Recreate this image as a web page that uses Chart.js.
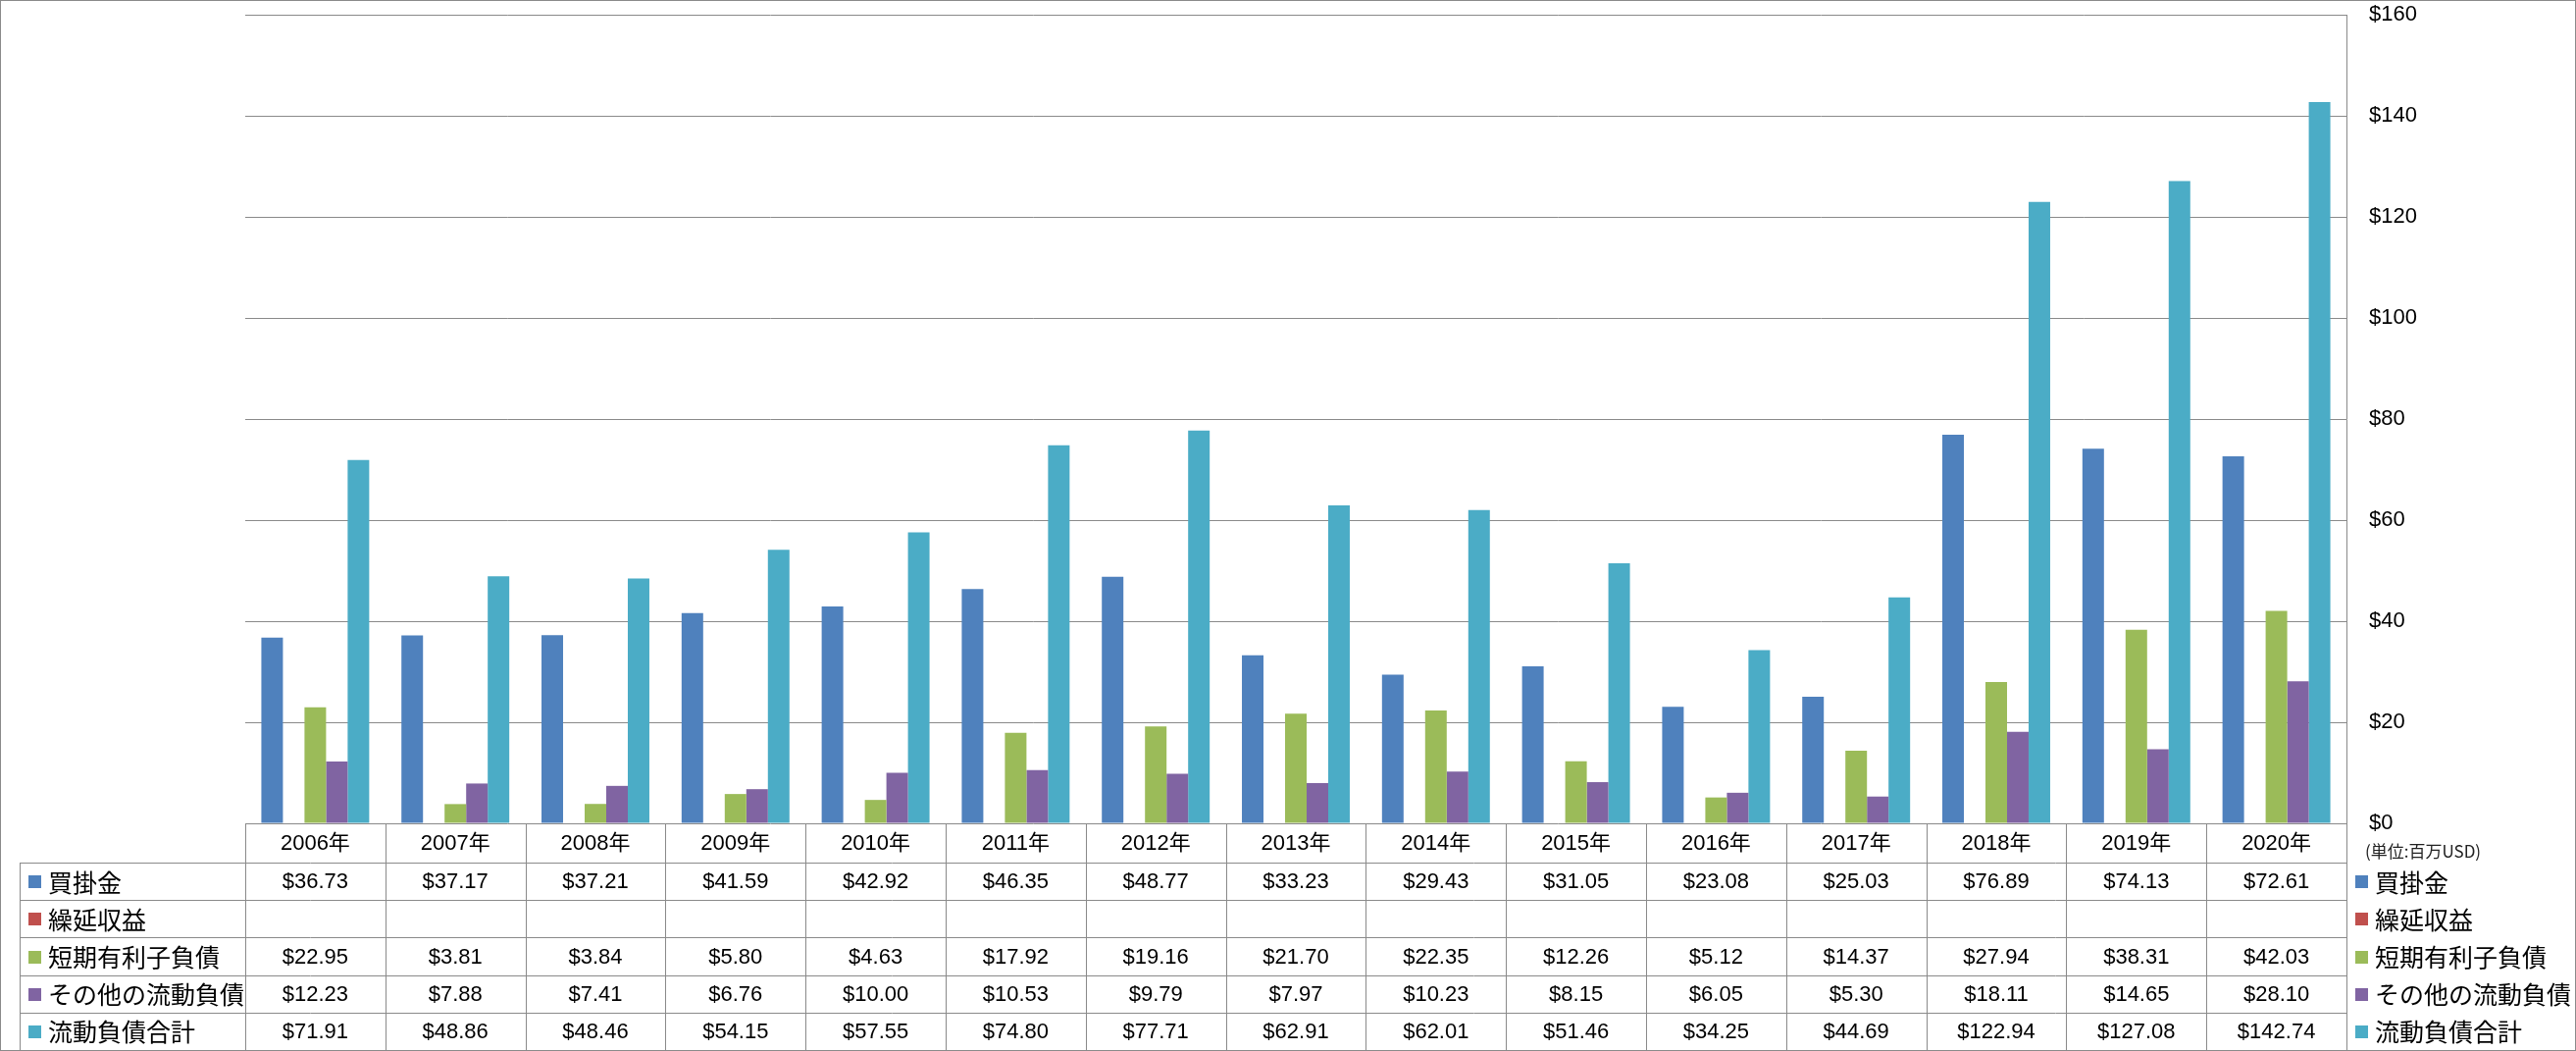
<!DOCTYPE html>
<html>
<head>
<meta charset="utf-8">
<script src="https://cdn.jsdelivr.net/npm/chart.js@4.4.1/dist/chart.umd.min.js"></script>
<style>
  html, body { margin: 0; padding: 0; background: #fff; }
  canvas { display: block; }
</style>
</head>
<body>
<canvas id="myChart" width="2626" height="1071"></canvas>
<script>
// data (百万USD)
const years = ['2006年', '2007年', '2008年', '2009年', '2010年', '2011年', '2012年', '2013年',
  '2014年', '2015年', '2016年', '2017年', '2018年', '2019年', '2020年'];
const seriesNames = ['買掛金', '繰延収益', '短期有利子負債', 'その他の流動負債', '流動負債合計'];
const accountsPayable = [36.73, 37.17, 37.21, 41.59, 42.92, 46.35, 48.77, 33.23, 29.43, 31.05, 23.08, 25.03, 76.89, 74.13, 72.61];
const deferredRevenue = [null, null, null, null, null, null, null, null, null, null, null, null, null, null, null];
const shortTermDebt = [22.95, 3.81, 3.84, 5.80, 4.63, 17.92, 19.16, 21.70, 22.35, 12.26, 5.12, 14.37, 27.94, 38.31, 42.03];
const otherCurrent = [12.23, 7.88, 7.41, 6.76, 10.00, 10.53, 9.79, 7.97, 10.23, 8.15, 6.05, 5.30, 18.11, 14.65, 28.10];
const totalCurrent = [71.91, 48.86, 48.46, 54.15, 57.55, 74.80, 77.71, 62.91, 62.01, 51.46, 34.25, 44.69, 122.94, 127.08, 142.74];
const yTicks = [0, 20, 40, 60, 80, 100, 120, 140, 160];
const unitNote = '(単位:百万USD)';

const colors = ['#4F81BD', '#C0504D', '#9BBB59', '#8064A2', '#4BACC6'];
const seriesData = [accountsPayable, deferredRevenue, shortTermDebt, otherCurrent, totalCurrent];
const lineColor = '#8a8a8a';
const numFont = '22px "Liberation Sans", "Noto Sans CJK JP", sans-serif';
const jpFont = '25px "Noto Sans CJK JP", "Liberation Sans", sans-serif';

// data table + right legend under the plot, aligned with the x scale
const tablePlugin = {
  id: 'dataTable',
  afterDraw(chart) {
    const ctx = chart.ctx;
    const x = chart.scales.x;
    const area = chart.chartArea;
    const n = years.length;
    const colW = area.width / n;
    const top = area.bottom;
    const headH = 40;
    const rowH = 38.2;
    const tableLeft = 20;
    const bottom = top + headH + rowH * seriesNames.length;

    ctx.save();
    ctx.strokeStyle = lineColor;
    ctx.lineWidth = 1;

    // horizontal lines
    for (let r = 0; r <= seriesNames.length; r++) {
      const y = Math.round(top + headH + r * rowH) + 0.5;
      ctx.beginPath();
      ctx.moveTo(tableLeft, y);
      ctx.lineTo(area.right, y);
      ctx.stroke();
    }
    // vertical lines
    ctx.beginPath();
    ctx.moveTo(tableLeft + 0.5, top + headH);
    ctx.lineTo(tableLeft + 0.5, bottom);
    ctx.stroke();
    for (let i = 0; i <= n; i++) {
      const xx = Math.round(x.getPixelForValue(0) - colW / 2 + i * colW) + 0.5;
      ctx.beginPath();
      ctx.moveTo(xx, top);
      ctx.lineTo(xx, bottom);
      ctx.stroke();
    }

    ctx.fillStyle = '#000';
    ctx.textBaseline = 'middle';
    ctx.textAlign = 'center';
    ctx.font = numFont;
    // header
    years.forEach((yr, i) => {
      ctx.fillText(yr, x.getPixelForValue(i), top + headH / 2 + 1);
    });
    // values
    seriesData.forEach((arr, r) => {
      const cy = top + headH + r * rowH + rowH / 2 + 1;
      arr.forEach((v, i) => {
        if (v === null) return;
        ctx.fillText('$' + v.toFixed(2), x.getPixelForValue(i), cy);
      });
    });

    // row labels, left and right
    ctx.textAlign = 'left';
    ctx.font = jpFont;
    seriesNames.forEach((name, r) => {
      const cy = top + headH + r * rowH + rowH / 2;
      ctx.fillStyle = colors[r];
      ctx.fillRect(29, Math.round(cy - 6), 13, 13);
      ctx.fillRect(area.right + 9, Math.round(cy - 6), 13, 13);
      ctx.fillStyle = '#000';
      ctx.fillText(name, 49, cy + 1);
      ctx.fillText(name, area.right + 29, cy + 1);
    });

    // unit note under the $0 tick
    ctx.font = '17px "Noto Sans CJK JP", sans-serif';
    ctx.fillStyle = '#222';
    ctx.fillText(unitNote, area.right + 19, top + 29);

    // outer frame
    ctx.strokeStyle = lineColor;
    ctx.strokeRect(0.5, 0.5, chart.width - 1, chart.height - 1);
    ctx.restore();
  }
};

const ctx = document.getElementById('myChart').getContext('2d');
new Chart(ctx, {
  type: 'bar',
  data: {
    labels: years,
    datasets: seriesNames.map((name, i) => ({
      label: name,
      data: seriesData[i],
      backgroundColor: colors[i],
      borderWidth: 0,
      categoryPercentage: 0.77,
      barPercentage: 1.0
    }))
  },
  options: {
    responsive: false,
    devicePixelRatio: 1,
    animation: false,
    layout: { padding: { left: 250, right: 0, top: 15, bottom: 232 } },
    plugins: { legend: { display: false }, tooltip: { enabled: false } },
    scales: {
      x: { display: false, offset: true },
      y: {
        position: 'right',
        min: 0,
        max: 160,
        afterBuildTicks: scale => { scale.ticks = yTicks.map(v => ({ value: v })); },
        afterFit: scale => {
          scale.width = 234;
          scale.paddingTop = 0;
          scale.paddingBottom = 0;
        },
        grid: { color: lineColor, drawTicks: false, lineWidth: 1 },
        border: { display: true, color: lineColor },
        ticks: {
          padding: 23,
          color: '#000',
          font: { family: '"Liberation Sans", sans-serif', size: 22 },
          callback: v => '$' + v
        }
      }
    }
  },
  plugins: [tablePlugin]
});
</script>
</body>
</html>
